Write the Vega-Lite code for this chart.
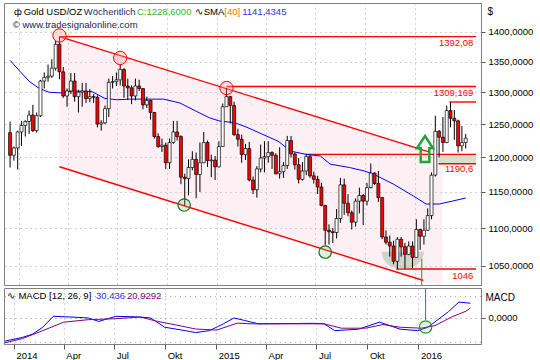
{
"$schema": "https://vega.github.io/schema/vega-lite/v6.json",
"padding": {"top": 2, "left": 2, "right": 2, "bottom": 0},
"background": "white",
"spacing": 3,
"bounds": "flush",
"config": {"view": {"stroke": "#808080", "strokeWidth": 1}, "font": "Liberation Sans", "axis": {"labelFont": "Liberation Sans", "titleFont": "Liberation Sans"}},
"datasets": {
"candles": [
{"d":"2013-12-16","o":1237,"h":1254,"l":1185,"c":1203},
{"d":"2013-12-23","o":1203,"h":1216,"l":1195,"c":1214},
{"d":"2013-12-30","o":1214,"h":1240,"l":1182,"c":1238},
{"d":"2014-01-06","o":1238,"h":1255,"l":1217,"c":1248},
{"d":"2014-01-13","o":1248,"h":1256,"l":1231,"c":1254},
{"d":"2014-01-20","o":1254,"h":1271,"l":1235,"c":1264},
{"d":"2014-01-27","o":1264,"h":1280,"l":1238,"c":1240},
{"d":"2014-02-03","o":1240,"h":1268,"l":1237,"c":1263},
{"d":"2014-02-10","o":1263,"h":1320,"l":1261,"c":1318},
{"d":"2014-02-17","o":1318,"h":1332,"l":1306,"c":1324},
{"d":"2014-02-24","o":1324,"h":1345,"l":1317,"c":1326},
{"d":"2014-03-03","o":1326,"h":1354,"l":1323,"c":1339},
{"d":"2014-03-10","o":1339,"h":1385,"l":1335,"c":1379},
{"d":"2014-03-17","o":1379,"h":1392,"l":1321,"c":1333},
{"d":"2014-03-24","o":1333,"h":1341,"l":1291,"c":1294},
{"d":"2014-03-31","o":1294,"h":1306,"l":1277,"c":1302},
{"d":"2014-04-07","o":1302,"h":1331,"l":1297,"c":1318},
{"d":"2014-04-14","o":1318,"h":1331,"l":1285,"c":1293},
{"d":"2014-04-21","o":1293,"h":1304,"l":1268,"c":1300},
{"d":"2014-04-28","o":1300,"h":1315,"l":1277,"c":1302},
{"d":"2014-05-05","o":1302,"h":1315,"l":1283,"c":1290},
{"d":"2014-05-12","o":1290,"h":1305,"l":1284,"c":1293},
{"d":"2014-05-19","o":1293,"h":1297,"l":1283,"c":1292},
{"d":"2014-05-26","o":1292,"h":1295,"l":1245,"c":1250},
{"d":"2014-06-02","o":1250,"h":1256,"l":1240,"c":1252},
{"d":"2014-06-09","o":1252,"h":1279,"l":1250,"c":1274},
{"d":"2014-06-16","o":1274,"h":1322,"l":1261,"c":1316},
{"d":"2014-06-23","o":1316,"h":1326,"l":1306,"c":1317},
{"d":"2014-06-30","o":1317,"h":1332,"l":1310,"c":1320},
{"d":"2014-07-07","o":1320,"h":1345,"l":1311,"c":1337},
{"d":"2014-07-14","o":1337,"h":1339,"l":1291,"c":1310},
{"d":"2014-07-21","o":1310,"h":1322,"l":1288,"c":1307},
{"d":"2014-07-28","o":1307,"h":1311,"l":1281,"c":1294},
{"d":"2014-08-04","o":1294,"h":1322,"l":1287,"c":1310},
{"d":"2014-08-11","o":1310,"h":1320,"l":1302,"c":1306},
{"d":"2014-08-18","o":1306,"h":1306,"l":1273,"c":1280},
{"d":"2014-08-25","o":1280,"h":1293,"l":1275,"c":1287},
{"d":"2014-09-01","o":1287,"h":1288,"l":1257,"c":1268},
{"d":"2014-09-08","o":1268,"h":1269,"l":1228,"c":1231},
{"d":"2014-09-15","o":1231,"h":1236,"l":1214,"c":1216},
{"d":"2014-09-22","o":1216,"h":1228,"l":1208,"c":1218},
{"d":"2014-09-29","o":1218,"h":1222,"l":1183,"c":1192},
{"d":"2014-10-06","o":1192,"h":1228,"l":1183,"c":1222},
{"d":"2014-10-13","o":1222,"h":1255,"l":1220,"c":1238},
{"d":"2014-10-20","o":1238,"h":1255,"l":1225,"c":1231},
{"d":"2014-10-27","o":1231,"h":1233,"l":1161,"c":1171},
{"d":"2014-11-03","o":1171,"h":1176,"l":1131,"c":1169},
{"d":"2014-11-10","o":1169,"h":1197,"l":1145,"c":1185},
{"d":"2014-11-17","o":1185,"h":1209,"l":1181,"c":1197},
{"d":"2014-11-24","o":1197,"h":1207,"l":1141,"c":1175},
{"d":"2014-12-01","o":1175,"h":1222,"l":1150,"c":1192},
{"d":"2014-12-08","o":1192,"h":1238,"l":1192,"c":1222},
{"d":"2014-12-15","o":1222,"h":1225,"l":1186,"c":1195},
{"d":"2014-12-22","o":1195,"h":1204,"l":1171,"c":1196},
{"d":"2014-12-29","o":1196,"h":1202,"l":1167,"c":1186},
{"d":"2015-01-05","o":1186,"h":1224,"l":1185,"c":1216},
{"d":"2015-01-12","o":1216,"h":1282,"l":1216,"c":1277},
{"d":"2015-01-19","o":1277,"h":1307,"l":1277,"c":1293},
{"d":"2015-01-26","o":1293,"h":1294,"l":1251,"c":1279},
{"d":"2015-02-02","o":1279,"h":1285,"l":1232,"c":1234},
{"d":"2015-02-09","o":1234,"h":1243,"l":1216,"c":1227},
{"d":"2015-02-16","o":1227,"h":1234,"l":1192,"c":1204},
{"d":"2015-02-23","o":1204,"h":1220,"l":1196,"c":1213},
{"d":"2015-03-02","o":1213,"h":1223,"l":1165,"c":1167},
{"d":"2015-03-09","o":1167,"h":1172,"l":1147,"c":1153},
{"d":"2015-03-16","o":1153,"h":1187,"l":1142,"c":1183},
{"d":"2015-03-23","o":1183,"h":1219,"l":1178,"c":1199},
{"d":"2015-03-30","o":1199,"h":1224,"l":1178,"c":1201},
{"d":"2015-04-06","o":1201,"h":1224,"l":1192,"c":1207},
{"d":"2015-04-13","o":1207,"h":1209,"l":1183,"c":1203},
{"d":"2015-04-20","o":1203,"h":1206,"l":1175,"c":1176},
{"d":"2015-04-27","o":1176,"h":1215,"l":1169,"c":1179},
{"d":"2015-05-04","o":1179,"h":1193,"l":1170,"c":1188},
{"d":"2015-05-11","o":1188,"h":1232,"l":1183,"c":1225},
{"d":"2015-05-18","o":1225,"h":1232,"l":1200,"c":1205},
{"d":"2015-05-25","o":1205,"h":1207,"l":1182,"c":1189},
{"d":"2015-06-01","o":1189,"h":1199,"l":1162,"c":1168},
{"d":"2015-06-08","o":1168,"h":1193,"l":1166,"c":1180},
{"d":"2015-06-15","o":1180,"h":1205,"l":1174,"c":1201},
{"d":"2015-06-22","o":1201,"h":1204,"l":1170,"c":1173},
{"d":"2015-06-29","o":1173,"h":1179,"l":1162,"c":1168},
{"d":"2015-07-06","o":1168,"h":1173,"l":1147,"c":1157},
{"d":"2015-07-13","o":1157,"h":1163,"l":1130,"c":1131},
{"d":"2015-07-20","o":1131,"h":1132,"l":1077,"c":1097},
{"d":"2015-07-27","o":1097,"h":1105,"l":1078,"c":1095},
{"d":"2015-08-03","o":1095,"h":1100,"l":1080,"c":1094},
{"d":"2015-08-10","o":1094,"h":1126,"l":1086,"c":1113},
{"d":"2015-08-17","o":1113,"h":1170,"l":1107,"c":1160},
{"d":"2015-08-24","o":1160,"h":1169,"l":1118,"c":1134},
{"d":"2015-08-31","o":1134,"h":1147,"l":1116,"c":1121},
{"d":"2015-09-07","o":1121,"h":1124,"l":1098,"c":1108},
{"d":"2015-09-14","o":1108,"h":1141,"l":1102,"c":1137},
{"d":"2015-09-21","o":1137,"h":1156,"l":1120,"c":1145},
{"d":"2015-09-28","o":1145,"h":1147,"l":1104,"c":1137},
{"d":"2015-10-05","o":1137,"h":1163,"l":1131,"c":1156},
{"d":"2015-10-12","o":1156,"h":1191,"l":1155,"c":1177},
{"d":"2015-10-19","o":1177,"h":1178,"l":1160,"c":1162},
{"d":"2015-10-26","o":1162,"h":1180,"l":1136,"c":1142},
{"d":"2015-11-02","o":1142,"h":1143,"l":1085,"c":1088},
{"d":"2015-11-09","o":1088,"h":1097,"l":1078,"c":1081},
{"d":"2015-11-16","o":1081,"h":1090,"l":1062,"c":1076},
{"d":"2015-11-23","o":1076,"h":1083,"l":1052,"c":1056},
{"d":"2015-11-30","o":1056,"h":1088,"l":1046,"c":1085},
{"d":"2015-12-07","o":1085,"h":1088,"l":1062,"c":1075},
{"d":"2015-12-14","o":1075,"h":1080,"l":1046,"c":1065},
{"d":"2015-12-21","o":1065,"h":1082,"l":1064,"c":1076},
{"d":"2015-12-28","o":1076,"h":1082,"l":1047,"c":1061},
{"d":"2016-01-04","o":1061,"h":1112,"l":1061,"c":1098},
{"d":"2016-01-11","o":1098,"h":1099,"l":1071,"c":1089},
{"d":"2016-01-18","o":1089,"h":1112,"l":1078,"c":1097},
{"d":"2016-01-25","o":1097,"h":1127,"l":1096,"c":1117},
{"d":"2016-02-01","o":1117,"h":1178,"l":1112,"c":1174},
{"d":"2016-02-08","o":1174,"h":1263,"l":1172,"c":1239},
{"d":"2016-02-15","o":1239,"h":1241,"l":1200,"c":1230},
{"d":"2016-02-22","o":1230,"h":1261,"l":1208,"c":1222},
{"d":"2016-02-29","o":1222,"h":1279,"l":1221,"c":1271},
{"d":"2016-03-07","o":1271,"h":1284,"l":1245,"c":1259},
{"d":"2016-03-14","o":1259,"h":1272,"l":1226,"c":1255},
{"d":"2016-03-21","o":1255,"h":1257,"l":1207,"c":1217},
{"d":"2016-03-28","o":1217,"h":1247,"l":1209,"c":1222},
{"d":"2016-04-04","o":1222,"h":1235,"l":1213,"c":1228.6}
]
},
"vconcat": [
{
"width": 477,
"height": 282,
"encoding": {
"x": {"field": "d", "type": "temporal",
 "scale": {"type": "utc", "domain": [{"year":2013,"month":12,"date":14,"utc":true},{"year":2016,"month":4,"date":23,"utc":true}]},
 "axis": {"values": [{"year":2014,"month":1,"date":1,"utc":true},{"year":2014,"month":4,"date":1,"utc":true},{"year":2014,"month":7,"date":1,"utc":true},{"year":2014,"month":10,"date":1,"utc":true},{"year":2015,"month":1,"date":1,"utc":true},{"year":2015,"month":4,"date":1,"utc":true},{"year":2015,"month":7,"date":1,"utc":true},{"year":2015,"month":10,"date":1,"utc":true},{"year":2016,"month":1,"date":1,"utc":true}],
 "labels": false, "ticks": false, "domain": false, "grid": true, "gridDash": [1,4], "gridColor": "#9aa89a", "title": null}},
"y": {"field": "p", "type": "quantitative",
 "scale": {"type": "log", "domain": [1025.6, 1450.8], "nice": false, "zero": false},
 "axis": {"orient": "right", "values": [1050,1100,1150,1200,1250,1300,1350,1400], "labelExpr": "replace(format(datum.value, '.4f'), '.', ',')", "grid": true, "gridDash": [1,4], "gridColor": "#9aa89a", "tickSize": 4, "tickColor": "#555555", "domain": true, "domainColor": "#808080", "labelFontSize": 9.5, "labelColor": "#000000", "labelPadding": 3, "title": "$", "titleAngle": 0, "titleX": 6, "titleY": 8, "titleAlign": "left", "titleBaseline": "middle", "titleFontWeight": "normal", "titleFontSize": 10, "titleColor": "#000000"}}
},
"layer": [
{"data": {"values": [{"d":"2014-03-17","p":1392.08,"p2":1186.2},{"d":"2016-02-21","p":1201.4,"p2":1023}]},
 "mark": {"type": "area", "color": "#f4bccb", "opacity": 0.22, "clip": true},
 "encoding": {"y2": {"field": "p2"}}},
{"data": {"values": [{"d":"2016-02-14","d2":"2016-04-23","p":1204.4,"p2":1190.6}]},
 "mark": {"type": "rect", "color": "#d0ddcb", "opacity": 0.9},
 "encoding": {"x2": {"field": "d2"}, "y2": {"field": "p2"}}},
{"data": {"values": [
 {"d":"2014-03-17","d2":"2016-04-23","p":1392.08},
 {"d":"2015-01-19","d2":"2016-04-23","p":1309.169},
 {"d":"2016-03-05","d2":"2016-04-23","p":1284.5},
 {"d":"2015-06-14","d2":"2016-04-23","p":1204.4},
 {"d":"2016-02-14","d2":"2016-04-23","p":1190.6},
 {"d":"2015-11-28","d2":"2016-04-23","p":1046}]},
 "mark": {"type": "rule", "color": "#ff0000", "strokeWidth": 1.4},
 "encoding": {"x2": {"field": "d2"}}},
{"data": {"values": [
 {"id":"u","d":"2014-03-17","p":1392.08},{"id":"u","d":"2016-01-26","p":1208.5},
 {"id":"l","d":"2014-03-17","p":1186.2},{"id":"l","d":"2016-01-17","p":1031.3}]},
 "mark": {"type": "line", "color": "#ff0000", "strokeWidth": 1.4, "clip": true},
 "encoding": {"detail": {"field": "id"}}},
{"data": {"values": [
 {"d":"2013-12-16","p":1352},{"d":"2014-01-03","p":1334},{"d":"2014-01-21","p":1317},{"d":"2014-02-08","p":1306},
 {"d":"2014-02-26","p":1300},{"d":"2014-03-19","p":1299},{"d":"2014-04-09","p":1302},{"d":"2014-05-16","p":1301},
 {"d":"2014-06-09","p":1290},{"d":"2014-07-02","p":1288},{"d":"2014-07-24","p":1289},{"d":"2014-08-20","p":1289},
 {"d":"2014-09-25","p":1289},{"d":"2014-10-25","p":1283},{"d":"2014-11-24","p":1270},{"d":"2014-12-18","p":1260},
 {"d":"2015-01-05","p":1255},{"d":"2015-02-04","p":1252},{"d":"2015-02-26","p":1245},{"d":"2015-03-25","p":1235},
 {"d":"2015-04-24","p":1224},{"d":"2015-05-18","p":1209},{"d":"2015-06-17","p":1204},{"d":"2015-07-11","p":1202},
 {"d":"2015-07-29","p":1190},{"d":"2015-09-03","p":1185},{"d":"2015-09-30","p":1180},{"d":"2015-10-18","p":1175},
 {"d":"2015-11-23","p":1161},{"d":"2015-12-30","p":1144},{"d":"2016-01-22","p":1133},{"d":"2016-02-15","p":1133},
 {"d":"2016-03-10","p":1137},{"d":"2016-04-04","p":1141.4}]},
 "mark": {"type": "line", "color": "#0000ff", "strokeWidth": 1}},
{"data": {"values": [{"d":"2015-12-10","p":1068.5}]},
 "mark": {"type": "point", "shape": "M -1 0 L -0.92 0.31 L -0.71 0.58 L -0.38 0.76 L 0 0.82 L 0.38 0.76 L 0.71 0.58 L 0.92 0.31 L 1 0 Z", "size": 1849, "filled": true, "fill": "#a9bea4", "opacity": 0.55, "strokeWidth": 0}},
{"data": {"values": [{"d":"2016-01-14","p":1059,"p2":1020}]},
 "mark": {"type": "rule", "color": "#1a9a1a", "strokeWidth": 1, "clip": true},
 "encoding": {"y2": {"field": "p2"}}},
{"data": {"name": "candles"},
 "mark": {"type": "rule", "color": "#000000", "strokeWidth": 1},
 "encoding": {"y": {"field": "l", "type": "quantitative", "scale": {"type": "log", "domain": [1025.6, 1450.8], "nice": false, "zero": false},
   "axis": {"orient": "right", "values": [1050,1100,1150,1200,1250,1300,1350,1400], "labelExpr": "replace(format(datum.value, '.4f'), '.', ',')", "grid": true, "gridDash": [1,4], "gridColor": "#9aa89a", "tickSize": 4, "tickColor": "#555555", "domain": true, "domainColor": "#808080", "labelFontSize": 9.5, "labelColor": "#000000", "labelPadding": 3, "title": "$", "titleAngle": 0, "titleX": 6, "titleY": 8, "titleAlign": "left", "titleBaseline": "middle", "titleFontWeight": "normal", "titleFontSize": 10, "titleColor": "#000000"}},
  "y2": {"field": "h"}}},
{"data": {"name": "candles"},
 "mark": {"type": "bar", "size": 3, "stroke": "#000000", "strokeWidth": 0.7},
 "encoding": {"y": {"field": "o", "type": "quantitative", "scale": {"type": "log", "domain": [1025.6, 1450.8], "nice": false, "zero": false},
   "axis": {"orient": "right", "values": [1050,1100,1150,1200,1250,1300,1350,1400], "labelExpr": "replace(format(datum.value, '.4f'), '.', ',')", "grid": true, "gridDash": [1,4], "gridColor": "#9aa89a", "tickSize": 4, "tickColor": "#555555", "domain": true, "domainColor": "#808080", "labelFontSize": 9.5, "labelColor": "#000000", "labelPadding": 3, "title": "$", "titleAngle": 0, "titleX": 6, "titleY": 8, "titleAlign": "left", "titleBaseline": "middle", "titleFontWeight": "normal", "titleFontSize": 10, "titleColor": "#000000"}},
  "y2": {"field": "c"},
  "color": {"condition": {"test": "datum.c < datum.o", "value": "#ff0000"}, "value": "#ffffff"}}},
{"data": {"values": [{"d":"2014-03-17","p":1394},{"d":"2014-07-07","p":1356},{"d":"2015-01-19","p":1306.8}]},
 "mark": {"type": "point", "shape": "circle", "size": 177, "filled": true, "fill": "#ff9a9a", "fillOpacity": 0.35, "stroke": "#ff0000", "strokeWidth": 1, "opacity": 1}},
{"data": {"values": [{"d":"2014-11-02","p":1131.6},{"d":"2015-07-20","p":1068}]},
 "mark": {"type": "point", "shape": "circle", "size": 154, "filled": true, "fill": "#7fc47f", "fillOpacity": 0.25, "stroke": "#1e6e1e", "strokeWidth": 1.2, "opacity": 1}},
{"data": {"values": [{"d":"2016-01-20","p":1212.4}]},
 "mark": {"type": "point", "shape": "M 0 -1 L 0.62 -0.05 L 0.33 -0.05 L 0.33 1 L -0.33 1 L -0.33 -0.05 L -0.62 -0.05 Z", "size": 676, "filled": false, "stroke": "#22a33a", "strokeWidth": 2.5, "opacity": 1}},
{"data": {"values": [
 {"d":"2016-04-18","p":1382,"t":"1392,08"},
 {"d":"2016-04-18","p":1298.8,"t":"1309,169"},
 {"d":"2016-04-18","p":1182.3,"t":"1190,6"},
 {"d":"2016-04-18","p":1037.6,"t":"1046"}]},
 "mark": {"type": "text", "align": "right", "baseline": "middle", "fontSize": 9.5, "color": "#ff0000"},
 "encoding": {"text": {"field": "t"}}},
{"data": {"values": [
 {"d":"2013-12-23","p":1434.9,"t":"ф"},
 {"d":"2014-01-10","p":1434.9,"t":"Gold USD/OZ"},
 {"d":"2014-11-22","p":1434.9,"t":"∿"},
 {"d":"2014-12-08","p":1434.9,"t":"SMA"}]},
 "mark": {"type": "text", "align": "left", "baseline": "middle", "fontSize": 9.5, "color": "#000000"},
 "encoding": {"text": {"field": "t"}}},
{"data": {"values": [{"d":"2014-05-01","p":1434.9,"t":"Wöchentlich"}]},
 "mark": {"type": "text", "align": "left", "baseline": "middle", "fontSize": 9.5, "color": "#2b2b5e"},
 "encoding": {"text": {"field": "t"}}},
{"data": {"values": [{"d":"2014-08-07","p":1434.9,"t":"C:1228,6000"}]},
 "mark": {"type": "text", "align": "left", "baseline": "middle", "fontSize": 9.5, "color": "#2eb82e"},
 "encoding": {"text": {"field": "t"}}},
{"data": {"values": [{"d":"2015-01-15","p":1434.9,"t":"[40]"}]},
 "mark": {"type": "text", "align": "left", "baseline": "middle", "fontSize": 9.5, "color": "#e07b00"},
 "encoding": {"text": {"field": "t"}}},
{"data": {"values": [{"d":"2015-02-17","p":1434.9,"t":"1141,4345"}]},
 "mark": {"type": "text", "align": "left", "baseline": "middle", "fontSize": 9.5, "color": "#3030ff"},
 "encoding": {"text": {"field": "t"}}},
{"data": {"values": [{"d":"2013-12-21","p":1412,"t":"© www.tradesignalonline.com"}]},
 "mark": {"type": "text", "align": "left", "baseline": "middle", "fontSize": 9.5, "color": "#222255"},
 "encoding": {"text": {"field": "t"}}}
]
},
{
"width": 477,
"height": 56,
"encoding": {
"x": {"field": "d", "type": "temporal",
 "scale": {"type": "utc", "domain": [{"year":2013,"month":12,"date":14,"utc":true},{"year":2016,"month":4,"date":23,"utc":true}]},
 "axis": {"values": [{"year":2014,"month":1,"date":1,"utc":true},{"year":2014,"month":4,"date":1,"utc":true},{"year":2014,"month":7,"date":1,"utc":true},{"year":2014,"month":10,"date":1,"utc":true},{"year":2015,"month":1,"date":1,"utc":true},{"year":2015,"month":4,"date":1,"utc":true},{"year":2015,"month":7,"date":1,"utc":true},{"year":2015,"month":10,"date":1,"utc":true},{"year":2016,"month":1,"date":1,"utc":true}],
 "labelExpr": "utcmonth(datum.value) == 0 ? '' + utcyear(datum.value) : ['Jan','Feb','Mär','Apr','Mai','Jun','Jul','Aug','Sep','Okt','Nov','Dez'][utcmonth(datum.value)]",
 "labelAlign": "left", "labelOffset": 2, "labelBaseline": "top", "labelPadding": 1, "labelFontSize": 9.5, "labelColor": "#000000", "labelFlush": false, "labelOverlap": false,
 "tickSize": 5, "tickColor": "#555555", "domain": true, "domainColor": "#808080",
 "grid": true, "gridDash": [1,4], "gridColor": "#9aa89a", "title": null}},
"y": {"field": "p", "type": "quantitative",
 "scale": {"domain": [-53.5, 61.7], "nice": false, "zero": false},
 "axis": {"orient": "right", "values": [0], "labelExpr": "'0,0000'", "grid": true, "gridDash": [1,4], "gridColor": "#8a8a8a", "tickSize": 4, "tickColor": "#555555", "domain": true, "domainColor": "#808080", "labelFontSize": 9.5, "labelColor": "#000000", "labelPadding": 3, "title": "MACD", "titleAngle": 0, "titleX": 4, "titleY": 9, "titleAlign": "left", "titleBaseline": "middle", "titleFontWeight": "normal", "titleFontSize": 10, "titleColor": "#000000"}}
},
"layer": [
{"data": {"values": [{"p":44},{"p":-50}]},
 "mark": {"type": "rule", "color": "#9aa89a", "strokeDash": [1,4], "strokeWidth": 1},
 "encoding": {"x": null}},
{"data": {"values": [
 {"d":"2013-12-16","p":-47.5},{"d":"2014-01-16","p":-40},{"d":"2014-02-04","p":-33},{"d":"2014-02-22","p":-19},
 {"d":"2014-03-13","p":3.5},{"d":"2014-04-14","p":2},{"d":"2014-05-15","p":0},{"d":"2014-06-03","p":-7},
 {"d":"2014-07-04","p":3.5},{"d":"2014-08-17","p":2},{"d":"2014-09-05","p":0},{"d":"2014-09-30","p":-19},
 {"d":"2014-11-06","p":-26},{"d":"2014-11-25","p":-30},{"d":"2014-12-20","p":-26},{"d":"2015-01-14","p":-12},
 {"d":"2015-02-02","p":0},{"d":"2015-02-21","p":-5},{"d":"2015-03-18","p":-12},{"d":"2015-06-26","p":-11},
 {"d":"2015-07-15","p":-12},{"d":"2015-08-03","p":-26},{"d":"2015-09-15","p":-23},{"d":"2015-10-23","p":-8.5},
 {"d":"2015-11-29","p":-23},{"d":"2015-12-31","p":-26},{"d":"2016-01-18","p":-19},{"d":"2016-02-24","p":12.8},
 {"d":"2016-03-14","p":32.6},{"d":"2016-04-04","p":30.4}]},
 "mark": {"type": "line", "color": "#0000ff", "strokeWidth": 1}},
{"data": {"values": [
 {"d":"2013-12-16","p":-51},{"d":"2014-01-16","p":-42.5},{"d":"2014-02-22","p":-26},{"d":"2014-04-01","p":-8.5},
 {"d":"2014-05-15","p":-3.5},{"d":"2014-07-04","p":-1.4},{"d":"2014-08-17","p":2},{"d":"2014-09-17","p":-7},
 {"d":"2014-10-19","p":-14},{"d":"2014-11-25","p":-22.7},{"d":"2015-01-02","p":-24.8},{"d":"2015-02-08","p":-10.6},
 {"d":"2015-03-05","p":-12},{"d":"2015-07-15","p":-12},{"d":"2015-08-15","p":-21},{"d":"2015-09-28","p":-21},
 {"d":"2015-10-29","p":-13.5},{"d":"2015-11-29","p":-19},{"d":"2016-01-06","p":-21},{"d":"2016-01-31","p":-15.6},
 {"d":"2016-03-01","p":2},{"d":"2016-03-27","p":14},{"d":"2016-04-04","p":20.9}]},
 "mark": {"type": "line", "color": "#800080", "strokeWidth": 1}},
{"data": {"values": [{"d":"2016-01-14","p":61.7,"p2":-4}]},
 "mark": {"type": "rule", "color": "#1a9a1a", "strokeWidth": 1},
 "encoding": {"y2": {"field": "p2"}}},
{"data": {"values": [{"d":"2016-01-14","p":-18.5}]},
 "mark": {"type": "point", "shape": "circle", "size": 154, "filled": true, "fill": "#7fc47f", "fillOpacity": 0.2, "stroke": "#1a9a1a", "strokeWidth": 1.2, "opacity": 1}},
{"data": {"values": [{"d":"2013-12-19","p":45,"t":"∿"},{"d":"2014-01-09","p":45,"t":"MACD [12, 26, 9]"}]},
 "mark": {"type": "text", "align": "left", "baseline": "middle", "fontSize": 9.5, "color": "#000000"},
 "encoding": {"text": {"field": "t"}}},
{"data": {"values": [{"d":"2014-05-29","p":45,"t":"30,436"}]},
 "mark": {"type": "text", "align": "left", "baseline": "middle", "fontSize": 9.5, "color": "#3030ff"},
 "encoding": {"text": {"field": "t"}}},
{"data": {"values": [{"d":"2014-07-24","p":45,"t":"20,9292"}]},
 "mark": {"type": "text", "align": "left", "baseline": "middle", "fontSize": 9.5, "color": "#800080"},
 "encoding": {"text": {"field": "t"}}}
]
}
]
}
